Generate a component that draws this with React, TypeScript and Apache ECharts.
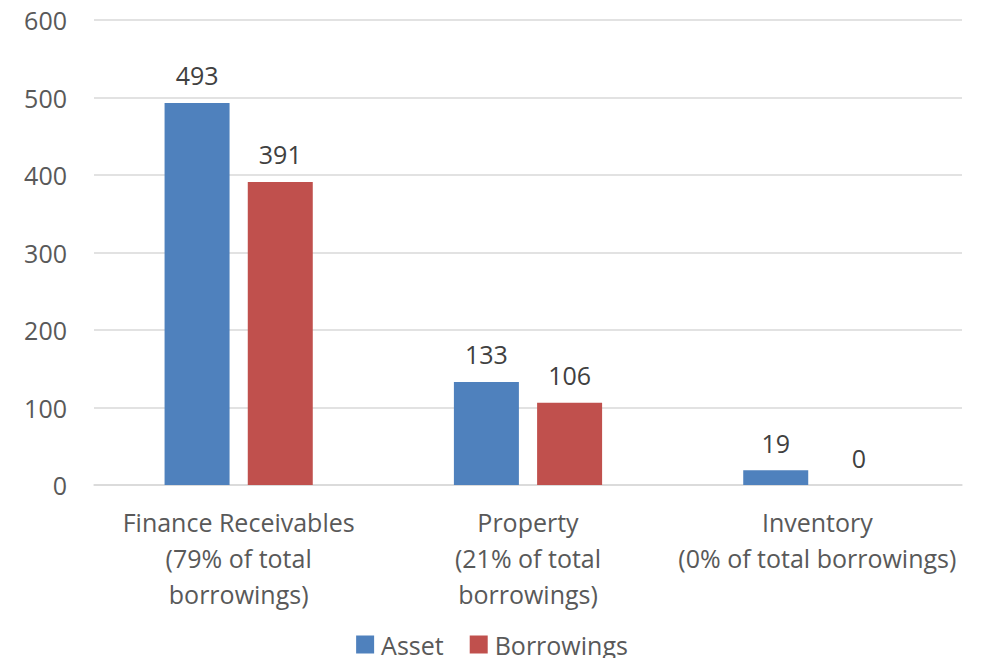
import React, { useEffect, useRef } from "react";
import * as echarts from "echarts";

const categories = [
  "Finance Receivables\n(79% of total\nborrowings)",
  "Property\n(21% of total\nborrowings)",
  "Inventory\n(0% of total borrowings)",
];
const assetValues = [493, 133, 19];
const borrowingValues = [391, 106, 0];
const yTicks = { min: 0, max: 600, interval: 100 };

const FONT = "'Open Sans', 'Liberation Sans', sans-serif";
const FS = 25;

export default function App() {
  const ref = useRef<HTMLDivElement>(null);
  useEffect(() => {
    if (!ref.current) return;
    const chart = echarts.init(ref.current, null, { renderer: "svg" });
    const labelStyle = {
      show: true,
      position: "top" as const,
      distance: 15,
      color: "#404040",
      fontSize: FS,
      fontFamily: FONT,
    };
    chart.setOption({
      animation: false,
      textStyle: { fontFamily: FONT },
      grid: { left: 94, right: 22, top: 20, bottom: 181, containLabel: false },
      legend: {
        top: 627,
        left: "center",
        itemWidth: 18,
        itemHeight: 18,
        itemGap: 26,
        icon: "rect",
        textStyle: { fontSize: FS, color: "#595959", fontFamily: FONT, padding: [0, 0, 0, 2] },
        data: ["Asset", "Borrowings"],
      },
      xAxis: {
        type: "category",
        data: categories,
        axisTick: { show: false },
        axisLine: { lineStyle: { color: "#D9D9D9", width: 1.5 } },
        axisLabel: {
          color: "#595959",
          fontSize: FS,
          lineHeight: 36,
          margin: 19,
          interval: 0,
          fontFamily: FONT,
        },
      },
      yAxis: {
        type: "value",
        min: yTicks.min,
        max: yTicks.max,
        interval: yTicks.interval,
        axisLine: { show: false },
        axisTick: { show: false },
        splitLine: { lineStyle: { color: "#D9D9D9", width: 1.5 } },
        axisLabel: { color: "#595959", fontSize: FS, margin: 27, fontFamily: FONT },
      },
      series: [
        {
          name: "Asset",
          type: "bar",
          data: assetValues,
          barWidth: 65,
          barGap: "28%",
          itemStyle: { color: "#4F81BD" },
          label: labelStyle,
        },
        {
          name: "Borrowings",
          type: "bar",
          data: borrowingValues,
          barWidth: 65,
          itemStyle: { color: "#C0504D" },
          label: labelStyle,
        },
      ],
    });
    return () => chart.dispose();
  }, []);
  return <div ref={ref} style={{ width: 984, height: 666, margin: -8 }} />;
}
